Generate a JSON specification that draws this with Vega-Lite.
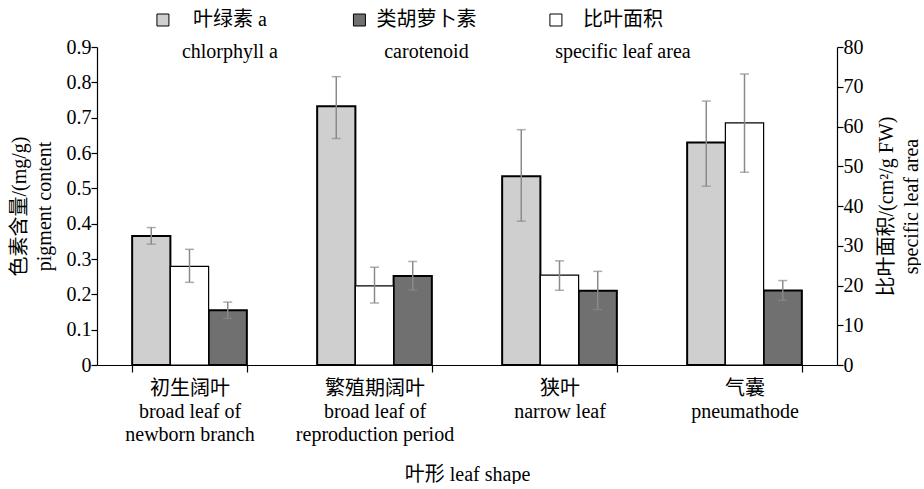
{
  "$schema": "https://vega.github.io/schema/vega-lite/v6.json",
  "autosize": {"type": "pad"},
  "padding": {"left": 9, "top": 0, "right": 0, "bottom": 0},
  "background": "white",
  "bounds": "flush",
  "spacing": 7,
  "datasets": {
    "main": [
      {"leaf": "初生阔叶|broad leaf of|newborn branch", "series": "chl", "value": 0.365, "lo": 0.342, "hi": 0.389},
      {"leaf": "初生阔叶|broad leaf of|newborn branch", "series": "sla", "value": 24.8, "lo": 20.8, "hi": 29.1},
      {"leaf": "初生阔叶|broad leaf of|newborn branch", "series": "car", "value": 0.155, "lo": 0.132, "hi": 0.178},
      {"leaf": "繁殖期阔叶|broad leaf of|reproduction period", "series": "chl", "value": 0.732, "lo": 0.641, "hi": 0.816},
      {"leaf": "繁殖期阔叶|broad leaf of|reproduction period", "series": "sla", "value": 19.9, "lo": 15.6, "hi": 24.6},
      {"leaf": "繁殖期阔叶|broad leaf of|reproduction period", "series": "car", "value": 0.252, "lo": 0.212, "hi": 0.293},
      {"leaf": "狭叶|narrow leaf", "series": "chl", "value": 0.534, "lo": 0.407, "hi": 0.666},
      {"leaf": "狭叶|narrow leaf", "series": "sla", "value": 22.6, "lo": 18.8, "hi": 26.2},
      {"leaf": "狭叶|narrow leaf", "series": "car", "value": 0.21, "lo": 0.157, "hi": 0.265},
      {"leaf": "气囊|pneumathode", "series": "chl", "value": 0.63, "lo": 0.506, "hi": 0.747},
      {"leaf": "气囊|pneumathode", "series": "sla", "value": 60.9, "lo": 48.5, "hi": 73.2},
      {"leaf": "气囊|pneumathode", "series": "car", "value": 0.211, "lo": 0.183, "hi": 0.239}
    ],
    "legend": [
      {"series": "chl", "zh": "叶绿素 a", "en": "chlorphyll a"},
      {"series": "car", "zh": "类胡萝卜素", "en": "carotenoid"},
      {"series": "sla", "zh": "比叶面积", "en": "specific leaf area"}
    ]
  },
  "config": {
    "font": "Liberation Serif, Noto Sans CJK SC",
    "view": {"stroke": null},
    "axis": {
      "labelFont": "Liberation Serif, Noto Sans CJK SC",
      "labelFontSize": 20,
      "labelColor": "black",
      "titleFont": "Liberation Serif, Noto Sans CJK SC",
      "titleFontSize": 20,
      "titleFontWeight": "normal",
      "titleColor": "black",
      "domainColor": "black",
      "domainWidth": 1.2,
      "tickColor": "black",
      "tickWidth": 1.2,
      "ticks": true,
      "grid": false
    },
    "text": {"font": "Liberation Serif, Noto Sans CJK SC", "fontSize": 20, "color": "black"}
  },
  "resolve": {"scale": {"x": "independent", "y": "independent", "fill": "independent"}},
  "vconcat": [
    {
      "width": 740,
      "height": 40,
      "data": {"name": "legend"},
      "encoding": {
        "x": {
          "field": "series",
          "type": "nominal",
          "sort": null,
          "scale": {"type": "point", "domain": ["chl", "car", "sla"], "padding": 0.883, "align": 0.19},
          "axis": null
        }
      },
      "layer": [
        {
          "mark": {"type": "square", "size": 144, "filled": true, "opacity": 1, "stroke": "black", "strokeWidth": 1},
          "encoding": {
            "fill": {
              "field": "series",
              "type": "nominal",
              "scale": {"domain": ["chl", "car", "sla"], "range": ["#cfcfcf", "#707070", "#ffffff"]},
              "legend": null
            }
          }
        },
        {
          "mark": {"type": "text", "align": "center", "baseline": "middle", "dx": 67},
          "encoding": {"text": {"field": "zh", "type": "nominal"}}
        },
        {
          "mark": {"type": "text", "align": "center", "baseline": "middle", "dx": 67, "dy": 32},
          "encoding": {"text": {"field": "en", "type": "nominal"}}
        }
      ]
    },
    {
      "width": 740,
      "height": 318,
      "data": {"name": "main"},
      "encoding": {
        "x": {
          "field": "leaf",
          "type": "nominal",
          "sort": null,
          "scale": {"paddingInner": 0.38, "paddingOuter": 0.19},
          "axis": {
            "title": "叶形 leaf shape",
            "labelAngle": 0,
            "labelExpr": "split(datum.label, '|')",
            "labelLineHeight": 23,
            "labelBaseline": "top",
            "labelPadding": 6,
            "labelLimit": 400,
            "tickBand": "extent",
            "tickSize": 7,
            "titlePadding": 20
          }
        },
        "xOffset": {
          "field": "series",
          "type": "nominal",
          "scale": {"domain": ["chl", "sla", "car"], "paddingInner": 0, "paddingOuter": 0}
        }
      },
      "layer": [
        {
          "transform": [{"filter": "datum.series !== 'sla'"}],
          "layer": [
            {
              "mark": {"type": "bar", "stroke": "black", "strokeWidth": 2},
              "encoding": {
                "y": {
                  "field": "value",
                  "type": "quantitative",
                  "scale": {"domain": [0, 0.9]},
                  "title": ["色素含量/(mg/g)", "pigment content"],
                  "axis": {
                    "orient": "left",
                    "titleLineHeight": 25,
                    "titlePadding": 12,
                    "values": [0, 0.1, 0.2, 0.3, 0.4, 0.5, 0.6, 0.7, 0.8, 0.9],
                    "labelExpr": "datum.value === 0 ? '0' : format(datum.value, '.1f')",
                    "tickSize": 6,
                    "labelPadding": 0
                  }
                },
                "fill": {
                  "field": "series",
                  "type": "nominal",
                  "scale": {"domain": ["chl", "car", "sla"], "range": ["#cfcfcf", "#707070", "#ffffff"]},
                  "legend": null
                }
              }
            },
            {
              "mark": {"type": "rule", "color": "#8a8a8a", "strokeWidth": 1.5},
              "encoding": {
                "y": {
                  "field": "lo",
                  "type": "quantitative",
                  "title": ["色素含量/(mg/g)", "pigment content"],
                  "axis": {
                    "orient": "left",
                    "titleLineHeight": 25,
                    "titlePadding": 12,
                    "values": [0, 0.1, 0.2, 0.3, 0.4, 0.5, 0.6, 0.7, 0.8, 0.9],
                    "labelExpr": "datum.value === 0 ? '0' : format(datum.value, '.1f')",
                    "tickSize": 6,
                    "labelPadding": 0
                  }
                },
                "y2": {"field": "hi"}
              }
            },
            {
              "transform": [{"fold": ["lo", "hi"], "as": ["k", "v"]}],
              "mark": {"type": "tick", "color": "#8a8a8a", "size": 9, "thickness": 1.5},
              "encoding": {
                "y": {
                  "field": "v",
                  "type": "quantitative",
                  "title": ["色素含量/(mg/g)", "pigment content"],
                  "axis": {
                    "orient": "left",
                    "titleLineHeight": 25,
                    "titlePadding": 12,
                    "values": [0, 0.1, 0.2, 0.3, 0.4, 0.5, 0.6, 0.7, 0.8, 0.9],
                    "labelExpr": "datum.value === 0 ? '0' : format(datum.value, '.1f')",
                    "tickSize": 6,
                    "labelPadding": 0
                  }
                }
              }
            }
          ]
        },
        {
          "transform": [{"filter": "datum.series === 'sla'"}],
          "layer": [
            {
              "mark": {"type": "bar", "stroke": "black", "strokeWidth": 1.2},
              "encoding": {
                "y": {
                  "field": "value",
                  "type": "quantitative",
                  "scale": {"domain": [0, 80]},
                  "title": ["比叶面积/(cm²/g FW)", "specific leaf area"],
                  "axis": {
                    "orient": "right",
                    "titleAngle": -90,
                    "titleLineHeight": 25,
                    "titlePadding": 8,
                    "values": [0, 10, 20, 30, 40, 50, 60, 70, 80],
                    "tickSize": 6,
                    "labelPadding": 0
                  }
                },
                "fill": {
                  "field": "series",
                  "type": "nominal",
                  "scale": {"domain": ["chl", "car", "sla"], "range": ["#cfcfcf", "#707070", "#ffffff"]},
                  "legend": null
                }
              }
            },
            {
              "mark": {"type": "rule", "color": "#8a8a8a", "strokeWidth": 1.5},
              "encoding": {
                "y": {
                  "field": "lo",
                  "type": "quantitative",
                  "title": ["比叶面积/(cm²/g FW)", "specific leaf area"],
                  "axis": {
                    "orient": "right",
                    "titleAngle": -90,
                    "titleLineHeight": 25,
                    "titlePadding": 8,
                    "values": [0, 10, 20, 30, 40, 50, 60, 70, 80],
                    "tickSize": 6,
                    "labelPadding": 0
                  }
                },
                "y2": {"field": "hi"}
              }
            },
            {
              "transform": [{"fold": ["lo", "hi"], "as": ["k", "v"]}],
              "mark": {"type": "tick", "color": "#8a8a8a", "size": 9, "thickness": 1.5},
              "encoding": {
                "y": {
                  "field": "v",
                  "type": "quantitative",
                  "title": ["比叶面积/(cm²/g FW)", "specific leaf area"],
                  "axis": {
                    "orient": "right",
                    "titleAngle": -90,
                    "titleLineHeight": 25,
                    "titlePadding": 8,
                    "values": [0, 10, 20, 30, 40, 50, 60, 70, 80],
                    "tickSize": 6,
                    "labelPadding": 0
                  }
                }
              }
            }
          ]
        }
      ],
      "resolve": {"scale": {"y": "independent"}}
    }
  ]
}
